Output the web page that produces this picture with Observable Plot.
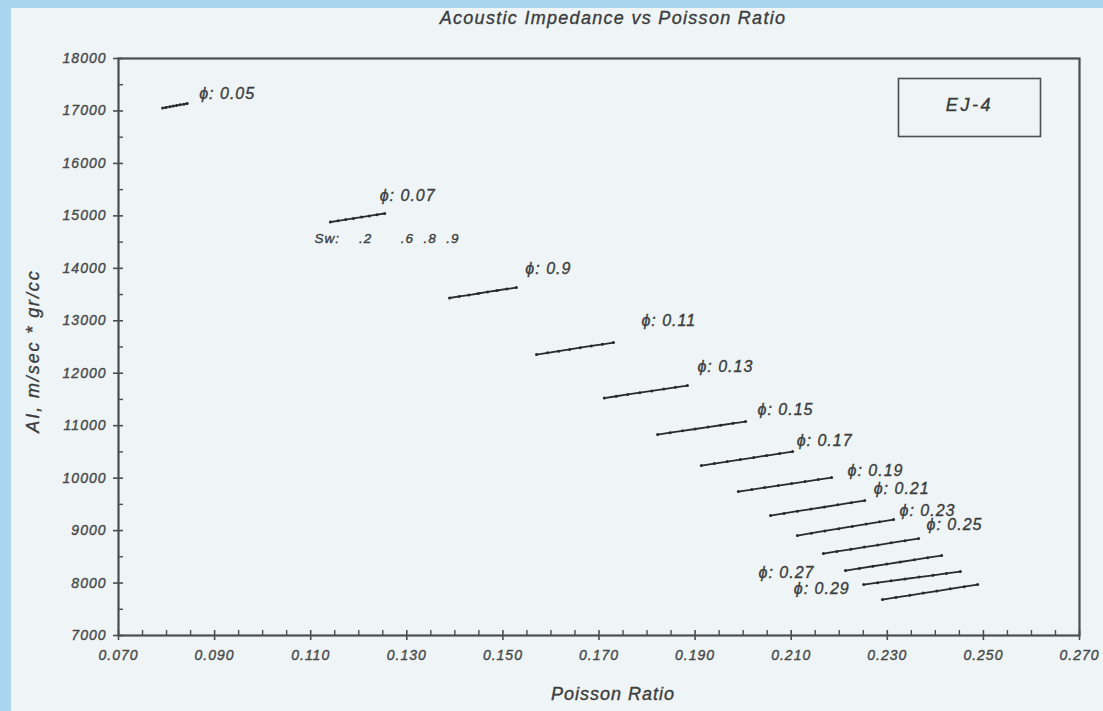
<!DOCTYPE html>
<html>
<head>
<meta charset="utf-8">
<script src="https://cdn.jsdelivr.net/npm/d3@7"></script>
<script src="https://cdn.jsdelivr.net/npm/@observablehq/plot@0.6"></script>
<style>
  html, body { margin: 0; padding: 0; }
  body {
    width: 1103px; height: 711px; overflow: hidden;
    background:
      linear-gradient(#a9d6ee, #a9d6ee) 0 0 / 100% 8px no-repeat,
      linear-gradient(#a9d6ee, #a9d6ee) 0 0 / 11px 100% no-repeat,
      #eff4f6;
  }
  #chart svg { display: block; }
  #chart svg text { stroke: currentColor; stroke-width: 0.35px; }
  g[aria-label="x-axis tick label"] text,
  g[aria-label="y-axis tick label"] text { letter-spacing: 1px; }
  .phi-label text { letter-spacing: 1px; }
  .sw-label text { letter-spacing: 1px; }
  .chart-title text { letter-spacing: 1.3px; }
  .x-title text { letter-spacing: 1px; }
  .y-title text { letter-spacing: 1.9px; }
  .well-tag text { letter-spacing: 2.6px; }
</style>
</head>
<body>
<div id="chart"></div>
<script>
// Porosity (ϕ) families: each line runs over increasing water saturation
const porosity = [0.05, 0.07, 0.09, 0.11, 0.13, 0.15, 0.17, 0.19, 0.21, 0.23, 0.25, 0.27, 0.29, 0.31];
const phiLabels = ["ϕ: 0.05", "ϕ: 0.07", "ϕ: 0.9", "ϕ: 0.11", "ϕ: 0.13", "ϕ: 0.15", "ϕ: 0.17",
                   "ϕ: 0.19", "ϕ: 0.21", "ϕ: 0.23", "ϕ: 0.25", "ϕ: 0.27", "ϕ: 0.29", null];
const swTickLabels = [".2", ".6", ".8", ".9"];

// Poisson ratio of each point, one row per porosity
const poissonRatio = [
  [0.0792, 0.0799, 0.0807, 0.0814, 0.0821, 0.0828, 0.0836, 0.0843],
  [0.1141, 0.1157, 0.1173, 0.1189, 0.1206, 0.1222, 0.1238, 0.1254],
  [0.1389, 0.1409, 0.1429, 0.1449, 0.1468, 0.1488, 0.1508, 0.1528],
  [0.1570, 0.1593, 0.1616, 0.1639, 0.1661, 0.1684, 0.1707, 0.1730],
  [0.1711, 0.1736, 0.1760, 0.1785, 0.1810, 0.1835, 0.1859, 0.1884],
  [0.1822, 0.1848, 0.1874, 0.1900, 0.1927, 0.1953, 0.1979, 0.2005],
  [0.1913, 0.1940, 0.1967, 0.1994, 0.2022, 0.2049, 0.2076, 0.2103],
  [0.1990, 0.2018, 0.2045, 0.2073, 0.2101, 0.2129, 0.2156, 0.2184],
  [0.2057, 0.2085, 0.2113, 0.2141, 0.2169, 0.2197, 0.2225, 0.2253],
  [0.2113, 0.2142, 0.2170, 0.2199, 0.2227, 0.2256, 0.2284, 0.2313],
  [0.2167, 0.2195, 0.2224, 0.2252, 0.2280, 0.2308, 0.2337, 0.2365],
  [0.2213, 0.2242, 0.2270, 0.2299, 0.2327, 0.2356, 0.2384, 0.2413],
  [0.2251, 0.2280, 0.2308, 0.2337, 0.2366, 0.2395, 0.2423, 0.2452],
  [0.2290, 0.2318, 0.2347, 0.2375, 0.2403, 0.2431, 0.2460, 0.2488]
];

// Acoustic impedance (m/sec * gr/cc) of each point
const acousticImpedance = [
  [17056, 17068, 17081, 17093, 17105, 17117, 17130, 17142],
  [14883, 14906, 14929, 14952, 14976, 14999, 15022, 15045],
  [13434, 13463, 13491, 13520, 13549, 13577, 13606, 13634],
  [12356, 12389, 12421, 12454, 12487, 12520, 12552, 12585],
  [11527, 11561, 11595, 11629, 11663, 11697, 11731, 11765],
  [10831, 10866, 10902, 10937, 10973, 11008, 11044, 11079],
  [10240, 10278, 10316, 10354, 10393, 10431, 10469, 10507],
  [ 9744,  9782,  9820,  9858,  9897,  9935,  9973, 10011],
  [ 9287,  9328,  9369,  9410,  9450,  9491,  9532,  9573],
  [ 8906,  8950,  8993,  9037,  9080,  9124,  9168,  9211],
  [ 8562,  8603,  8644,  8685,  8725,  8766,  8807,  8848],
  [ 8238,  8279,  8320,  8361,  8401,  8442,  8483,  8524],
  [ 7971,  8006,  8042,  8077,  8113,  8148,  8184,  8219],
  [ 7685,  7726,  7767,  7808,  7848,  7889,  7930,  7971]
];

const xTicks = [0.070, 0.090, 0.110, 0.130, 0.150, 0.170, 0.190, 0.210, 0.230, 0.250, 0.270];
const yTicks = [7000, 8000, 9000, 10000, 11000, 12000, 13000, 14000, 15000, 16000, 17000, 18000];
const chartTitle = "Acoustic Impedance vs Poisson Ratio";
const xTitle = "Poisson Ratio";
const yTitle = "AI, m/sec * gr/cc";
const wellName = "EJ-4";

// ---- layout ----
const W = 1103, H = 711;
const M = {top: 58, right: 24, bottom: 76, left: 118};
const innerW = W - M.left - M.right;
const innerH = H - M.top - M.bottom;
const ink = "#2a2a2a";
const axisInk = "#4a4e50";
const textInk = "#3a3c3d";
const tickInk = "#4b4e4f";
const font = "'Liberation Sans', Arial, sans-serif";

// minor ticks between the labelled ones
const xMinor = d3.range(0.075, 0.2701, 0.005).filter(v => Math.abs((v - 0.07) / 0.02 - Math.round((v - 0.07) / 0.02)) > 1e-6);
const yMinor = d3.range(7500, 18000, 1000);

const rows = porosity.flatMap((phi, i) =>
  poissonRatio[i].map((pr, j) => ({phi, pr, ai: acousticImpedance[i][j]}))
);

// label placement next to each line: [dx, dy, anchor, which end]
const labelNudge = [
  [12, -10, "start", "last"], [-5, -18, "start", "last"], [9, -19, "start", "last"],
  [28, -22, "start", "last"], [10, -19, "start", "last"], [12, -12, "start", "last"],
  [4, -11, "start", "last"], [16, -7, "start", "last"], [9, -12, "start", "last"],
  [6, -9, "start", "last"], [8, -14, "start", "last"], [-31, 2, "end", "first"],
  [-14, 4, "end", "first"]
];

const labelMarks = phiLabels.flatMap((label, i) => {
  if (!label) return [];
  const [dx, dy, anchor, end] = labelNudge[i];
  const j = end === "last" ? poissonRatio[i].length - 1 : 0;
  const d = {x: poissonRatio[i][j], y: acousticImpedance[i][j], label};
  return [Plot.text([d], {
    x: "x", y: "y", text: "label", dx, dy,
    textAnchor: anchor, lineAnchor: "middle",
    fontSize: 16, fontStyle: "italic", fill: textInk, className: "phi-label"
  })];
});

const nb = n => "\u00a0".repeat(n);
const swText = "Sw:" + nb(4) + swTickLabels[0] + nb(6) + swTickLabels[1] + nb(2) + swTickLabels[2] + nb(2) + swTickLabels[3];

const chart = Plot.plot({
  width: W, height: H,
  marginTop: M.top, marginRight: M.right, marginBottom: M.bottom, marginLeft: M.left,
  style: {background: "transparent", fontFamily: font, color: textInk, overflow: "visible"},
  x: {domain: [0.07, 0.27], label: null},
  y: {domain: [7000, 18000], label: null},
  marks: [
    Plot.frame({stroke: axisInk, strokeWidth: 2.2}),
    // tick marks: minor ones inside, labelled ones crossing the axis
    Plot.ruleX(xMinor, {x: d => d, insetTop: innerH - 5, stroke: axisInk, strokeWidth: 1.4}),
    Plot.ruleX(xTicks, {x: d => d, insetTop: innerH - 10, dy: 5, stroke: axisInk, strokeWidth: 1.6}),
    Plot.ruleY(yMinor, {y: d => d, insetRight: innerW - 5, stroke: axisInk, strokeWidth: 1.4}),
    Plot.ruleY(yTicks, {y: d => d, insetRight: innerW - 10, dx: -5, stroke: axisInk, strokeWidth: 1.6}),
    Plot.axisX(xTicks, {
      tickSize: 0, tickPadding: 15, label: null, tickFormat: d3.format(".3f"),
      fontSize: 14, fontStyle: "italic", fill: tickInk
    }),
    Plot.axisY(yTicks, {
      tickSize: 0, tickPadding: 12, label: null, tickFormat: d3.format("d"),
      fontSize: 14, fontStyle: "italic", fill: tickInk
    }),
    // porosity lines
    Plot.line(rows, {x: "pr", y: "ai", z: "phi", stroke: ink, strokeWidth: 1.8}),
    Plot.dot(rows, {x: "pr", y: "ai", r: 1.5, fill: ink, stroke: null}),
    ...labelMarks,
    Plot.text([swText], {
      x: () => poissonRatio[1][0], y: () => acousticImpedance[1][0], text: d => d,
      dx: -16, dy: 17, textAnchor: "start", lineAnchor: "middle",
      fontSize: 13.5, fontStyle: "italic", fill: textInk, className: "sw-label"
    }),
    // well tag
    Plot.frame({insetLeft: 780, insetRight: 39, insetTop: 20, insetBottom: 499, stroke: axisInk, strokeWidth: 1.6}),
    Plot.text([wellName], {
      text: d => d, frameAnchor: "top-right", dx: -110, dy: 47,
      textAnchor: "middle", lineAnchor: "middle",
      fontSize: 18, fontStyle: "italic", fill: textInk, className: "well-tag"
    }),
    // titles
    Plot.text([chartTitle], {
      text: d => d, frameAnchor: "top", dx: 14, dy: -40, textAnchor: "middle", lineAnchor: "middle",
      fontSize: 18, fontStyle: "italic", fill: textInk, className: "chart-title"
    }),
    Plot.text([xTitle], {
      text: d => d, frameAnchor: "bottom", dx: 14, dy: 59, textAnchor: "middle", lineAnchor: "middle",
      fontSize: 18, fontStyle: "italic", fill: textInk, className: "x-title"
    }),
    Plot.text([yTitle], {
      text: d => d, frameAnchor: "left", dx: -85, dy: 4, rotate: -90,
      textAnchor: "middle", lineAnchor: "middle",
      fontSize: 18, fontStyle: "italic", fill: textInk, className: "y-title"
    })
  ]
});

document.getElementById("chart").appendChild(chart);
</script>
</body>
</html>
